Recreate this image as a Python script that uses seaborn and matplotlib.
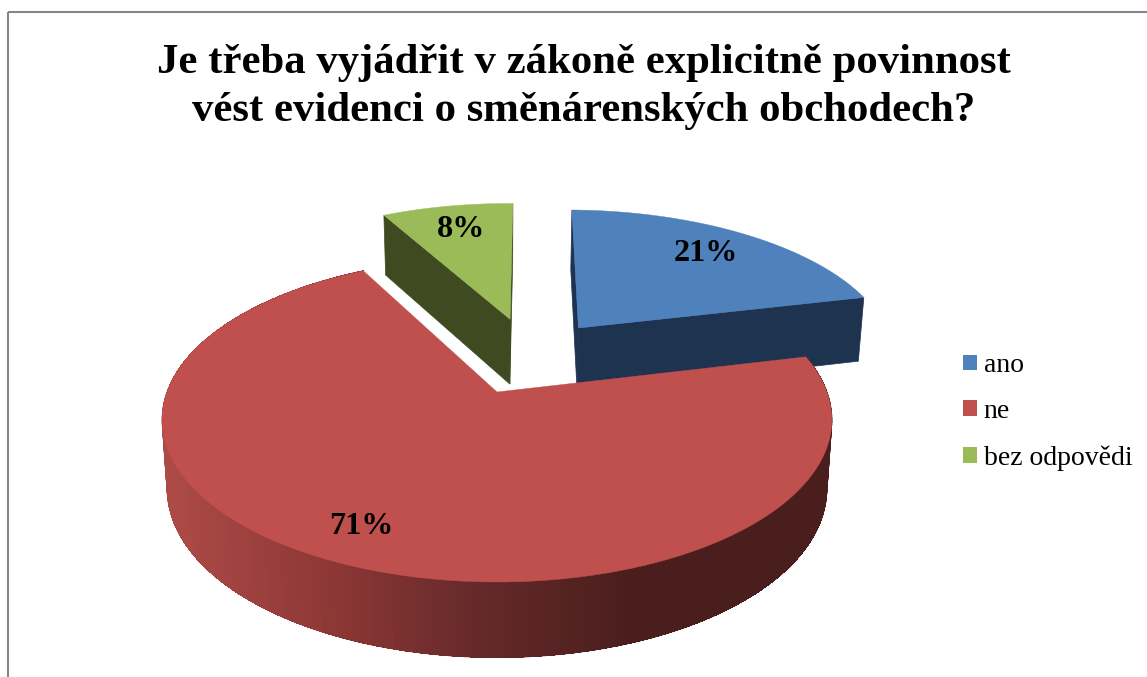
import numpy as np
import seaborn as sns
import matplotlib.pyplot as plt
from matplotlib.collections import PolyCollection
from matplotlib.patches import Patch, Rectangle

sns.set_theme(style='white')
plt.rcParams['font.family'] = ['Liberation Serif', 'DejaVu Serif']

title = "Je třeba vyjádřit v zákoně explicitně povinnost\nvést evidenci o směnárenských obchodech?"
categories = ['ano', 'ne', 'bez odpovědi']
values = [21, 71, 8]

top_colors = sns.color_palette(['#4F81BD', '#C0504D', '#9BBB59'])
cut_colors = ['#1D3350', '#4A1E1D', '#3F4A20']
red_side = sns.blend_palette(['#AC4A47', '#8E3836', '#66292A', '#4A1E1D'], 256)

# where each slice was pulled out to, in pie units
offsets = [(0.265, 0.436), (0, 0), (0.043, 0.5)]
label_pos = [(705.5, 253.5), (361, 527), (461, 229.5)]

# perspective of the tilted pie
CX, CY = 497, 392
A, B, K = 330, 157.7, 0.17
DEPTH, DEPTH_K, SHRINK = 68, 0.1, 0.985


def project(pts, lower=False):
    x, y = pts[:, 0], pts[:, 1]
    w = 1 + K * y
    sx = A * x / w
    sy = CY - B * y / w
    if lower:
        sx = sx * SHRINK
        sy = sy + DEPTH / (1 + DEPTH_K * y)
    return np.column_stack([CX + sx, sy])


fig, ax = plt.subplots(figsize=(11.47, 6.77), dpi=100)
wedges, _ = ax.pie(values, colors=top_colors, startangle=89, counterclock=False)

# pie() only gives the angles here, the faces are drawn in perspective below
slices = []
for wedge, off in zip(wedges, offsets):
    t = np.radians(np.linspace(wedge.theta1, wedge.theta2, 240))
    arc = np.column_stack([np.cos(t), np.sin(t)]) + off
    slices.append((arc, np.array([off])))
    wedge.remove()

ax.set_aspect('auto')
ax.set_position([0, 0, 1, 1])
ax.set_xlim(0, 1147)
ax.set_ylim(677, 0)
ax.axis('off')

ax.add_patch(Rectangle((7.5, 11.5), 1300, 800, fill=False, ec='#868686', lw=1.5))


def cut_face(a, b, color, z):
    pts = np.vstack([a, b])
    poly = np.vstack([project(pts), project(pts, lower=True)[::-1]])
    ax.fill(poly[:, 0], poly[:, 1], color=color, lw=0.5, zorder=z)


# blue and green sit behind the red slice
for i in [2, 0]:
    arc, centre = slices[i]
    cut_face(centre, arc[:1], cut_colors[i], 2)
    cut_face(centre, arc[-1:], cut_colors[i], 2)
    face = project(np.vstack([centre, arc]))
    ax.fill(face[:, 0], face[:, 1], color=top_colors[i], lw=0.3, zorder=3)

arc, centre = slices[1]
up, low = project(arc), project(arc, lower=True)
quads = [[up[j], up[j + 1], low[j + 1], low[j]] for j in range(len(arc) - 1)]
pos = np.clip((up[:-1, 0] - 170) / (625 - 170), 0, 1)
shades = [red_side[int(p * 255)] for p in pos]
# second layer without antialiasing hides the seams between the quads
ax.add_collection(PolyCollection(quads, facecolors=shades, edgecolors=shades, linewidths=0.6, zorder=4))
ax.add_collection(PolyCollection(quads, facecolors=shades, edgecolors='none', antialiaseds=False, zorder=4))
face = project(np.vstack([centre, arc]))
ax.fill(face[:, 0], face[:, 1], color=top_colors[1], lw=0.3, zorder=5)

for value, (x, y) in zip(values, label_pos):
    ax.text(x, y, f'{value}%', ha='center', va='center', fontsize=23.2,
            fontweight='bold', color='black', zorder=6)

ax.text(584, 87, title, ha='center', va='center', fontsize=30.8, fontweight='bold',
        color='black', linespacing=1.36)

handles = [Patch(color=c, lw=0) for c in top_colors]
ax.legend(handles, categories, loc='upper left', bbox_to_anchor=(0.8394, 0.478), frameon=False,
          fontsize=20, handlelength=0.5, handleheight=0.5, handletextpad=0.26,
          labelspacing=0.75, labelcolor='black', borderpad=0, borderaxespad=0)

fig.savefig('out.png', dpi=100)
